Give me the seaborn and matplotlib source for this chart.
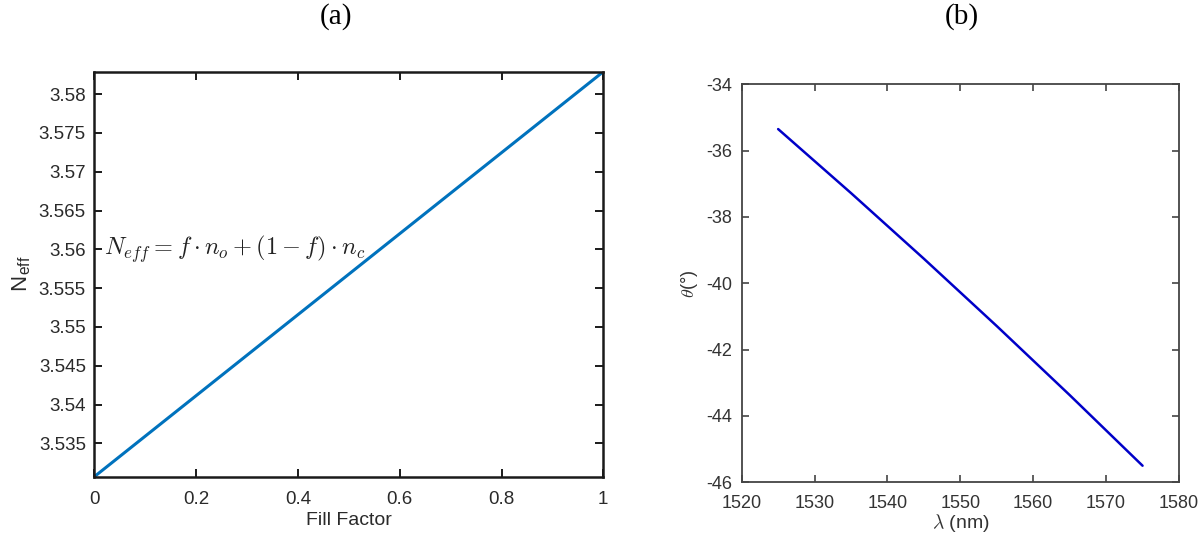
import numpy as np
import pandas as pd
import matplotlib
matplotlib.use("Agg")
import matplotlib.pyplot as plt
import seaborn as sns

# ---- data ----
fill_factor = [0.0, 0.5, 1.0]
n_eff = [3.5307, 3.5568, 3.5829]

wavelength_nm = [1525, 1535, 1545, 1555, 1565, 1575]
theta_deg = [-35.35, -37.28, -39.26, -41.29, -43.37, -45.5]

left_xticks = [0, 0.2, 0.4, 0.6, 0.8, 1]
left_xticklabels = ["0", "0.2", "0.4", "0.6", "0.8", "1"]
left_yticks = [3.535, 3.54, 3.545, 3.55, 3.555, 3.56, 3.565, 3.57, 3.575, 3.58]
left_yticklabels = ["3.535", "3.54", "3.545", "3.55", "3.555", "3.56", "3.565", "3.57", "3.575", "3.58"]
right_xticks = [1520, 1530, 1540, 1550, 1560, 1570, 1580]
right_yticks = [-46, -44, -42, -40, -38, -36, -34]

sns.set_style("ticks")
plt.rcParams["font.family"] = ["Liberation Sans", "DejaVu Sans"]
plt.rcParams["mathtext.fontset"] = "cm"
plt.rcParams["axes.unicode_minus"] = False

fig = plt.figure(figsize=(12, 5.35), dpi=100)

# ---------- panel (a) ----------
axa = fig.add_axes([94.3/1200, 1 - 476.7/535, (603.3-94.3)/1200, (476.7-71.7)/535])
dfa = pd.DataFrame({"f": fill_factor, "n": n_eff})
sns.lineplot(data=dfa, x="f", y="n", ax=axa, color="#0072BD", lw=2.2)
axa.set_xlim(0, 1)
axa.set_ylim(3.5307, 3.5829)
axa.set_xticks(left_xticks)
axa.set_xticklabels(left_xticklabels)
axa.set_yticks(left_yticks)
axa.set_yticklabels(left_yticklabels)
axa.set_xlabel("Fill Factor", fontsize=14, color="#2a2a2a", labelpad=3)
axa.set_ylabel(r"N$_{\mathregular{eff}}$", fontsize=16, color="#2a2a2a", labelpad=4)
axa.text(0.02, 3.56, r"$N_{eff} = f\cdot n_o + (1-f)\cdot n_c$", fontsize=17.5,
         va="center", ha="left", color="#222222")
for s in axa.spines.values():
    s.set_visible(True)
    s.set_color("#1a1a1a")
    s.set_linewidth(1.8)
axa.tick_params(direction="in", length=6, width=1.4, top=True, right=True,
                labelsize=13.5, colors="#1a1a1a", labelcolor="#2a2a2a", pad=6)
axa.tick_params(axis="x", pad=10)

# ---------- panel (b) ----------
axb = fig.add_axes([741.7/1200, 1 - 482.3/535, (1179-741.7)/1200, (482.3-84.3)/535])
dfb = pd.DataFrame({"lam": wavelength_nm, "theta": theta_deg})
sns.lineplot(data=dfb, x="lam", y="theta", ax=axb, color="#0000C8", lw=1.8)
axb.set_xlim(1520, 1580)
axb.set_ylim(-46, -34)
axb.set_xticks(right_xticks)
axb.set_yticks(right_yticks)
axb.set_xlabel(r"$\lambda$ (nm)", fontsize=14, color="#333333", labelpad=0)
axb.set_ylabel(r"$\theta$(°)", fontsize=13, color="#333333", labelpad=4)
for s in axb.spines.values():
    s.set_visible(True)
    s.set_color("#444444")
    s.set_linewidth(1.3)
axb.tick_params(direction="in", length=5, width=1.2, top=True, right=True,
                labelsize=13, colors="#444444", labelcolor="#333333", pad=7)
axb.tick_params(axis="x", pad=9)

# panel titles
fig.text(336/1200, 1 - 17/535, "(a)", fontsize=21, family="Liberation Serif",
         ha="center", va="center", color="black")
fig.text(962/1200, 1 - 17/535, "(b)", fontsize=21, family="Liberation Serif",
         ha="center", va="center", color="black")

fig.savefig("out.png", dpi=100, facecolor="white")
